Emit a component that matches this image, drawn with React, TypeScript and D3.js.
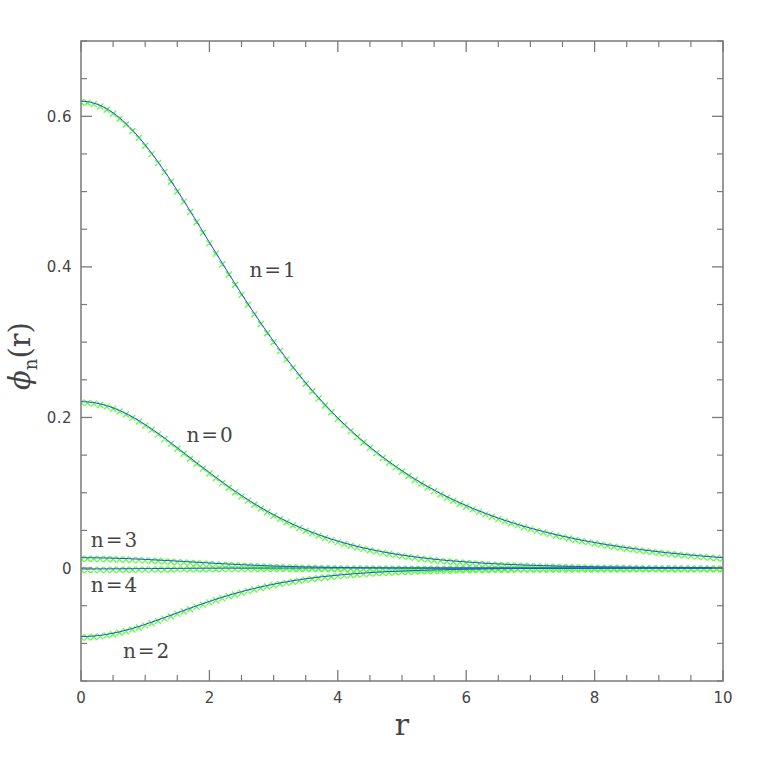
import React from 'react';
import * as d3 from 'd3';

// radial grid the curves were sampled on (0 .. 10, step 0.1)
const rGrid = d3.range(101).map(i => i / 10);

const phiN1 = [
  0.6200, 0.6194, 0.6175, 0.6144, 0.6101, 0.6046, 0.5981, 0.5905, 0.5819, 0.5724,
  0.5621, 0.5511, 0.5394, 0.5272, 0.5145, 0.5014, 0.4880, 0.4743, 0.4605, 0.4466,
  0.4326, 0.4187, 0.4049, 0.3911, 0.3776, 0.3642, 0.3510, 0.3382, 0.3255, 0.3132,
  0.3012, 0.2895, 0.2782, 0.2672, 0.2565, 0.2461, 0.2361, 0.2265, 0.2172, 0.2082,
  0.1995, 0.1912, 0.1832, 0.1754, 0.1680, 0.1609, 0.1540, 0.1474, 0.1411, 0.1351,
  0.1293, 0.1237, 0.1183, 0.1132, 0.1083, 0.1036, 0.0991, 0.0948, 0.0907, 0.0867,
  0.0830, 0.0793, 0.0759, 0.0726, 0.0694, 0.0663, 0.0634, 0.0607, 0.0580, 0.0555,
  0.0530, 0.0507, 0.0485, 0.0464, 0.0443, 0.0424, 0.0405, 0.0387, 0.0370, 0.0354,
  0.0339, 0.0324, 0.0309, 0.0296, 0.0283, 0.0270, 0.0259, 0.0247, 0.0236, 0.0226,
  0.0216, 0.0206, 0.0197, 0.0189, 0.0180, 0.0172, 0.0165, 0.0158, 0.0151, 0.0144,
  0.0138,
];

const phiN0 = [
  0.2210, 0.2207, 0.2197, 0.2180, 0.2157, 0.2128, 0.2093, 0.2053, 0.2008, 0.1959,
  0.1905, 0.1848, 0.1789, 0.1727, 0.1663, 0.1598, 0.1532, 0.1466, 0.1399, 0.1334,
  0.1269, 0.1205, 0.1142, 0.1081, 0.1021, 0.0964, 0.0909, 0.0855, 0.0804, 0.0755,
  0.0709, 0.0664, 0.0622, 0.0582, 0.0544, 0.0508, 0.0474, 0.0443, 0.0413, 0.0384,
  0.0358, 0.0333, 0.0310, 0.0288, 0.0268, 0.0249, 0.0232, 0.0215, 0.0200, 0.0185,
  0.0172, 0.0160, 0.0148, 0.0137, 0.0127, 0.0118, 0.0109, 0.0101, 0.0094, 0.0087,
  0.0081, 0.0075, 0.0069, 0.0064, 0.0059, 0.0055, 0.0051, 0.0047, 0.0044, 0.0040,
  0.0037, 0.0035, 0.0032, 0.0030, 0.0027, 0.0025, 0.0023, 0.0022, 0.0020, 0.0019,
  0.0017, 0.0016, 0.0015, 0.0014, 0.0013, 0.0012, 0.0011, 0.0010, 0.0009, 0.0009,
  0.0008, 0.0007, 0.0007, 0.0006, 0.0006, 0.0005, 0.0005, 0.0005, 0.0004, 0.0004,
  0.0004,
];

const phiN3 = [
  0.0137, 0.0137, 0.0136, 0.0135, 0.0133, 0.0131, 0.0128, 0.0126, 0.0122, 0.0119,
  0.0115, 0.0110, 0.0106, 0.0101, 0.0097, 0.0092, 0.0087, 0.0082, 0.0077, 0.0072,
  0.0067, 0.0062, 0.0058, 0.0053, 0.0049, 0.0045, 0.0041, 0.0037, 0.0034, 0.0030,
  0.0027, 0.0025, 0.0022, 0.0020, 0.0017, 0.0015, 0.0014, 0.0012, 0.0010, 0.0009,
  0.0008, 0.0007, 0.0006, 0.0005, 0.0004, 0.0004, 0.0003, 0.0003, 0.0002, 0.0002,
  0.0002, 0.0001, 0.0001, 0.0001, 0.0001, 0.0001, 0, 0, 0, 0,
  0, 0, 0, 0, 0, 0, 0, 0, 0, 0,
  0, 0, 0, 0, 0, 0, 0, 0, 0, 0,
  0, 0, 0, 0, 0, 0, 0, 0, 0, 0,
  0, 0, 0, 0, 0, 0, 0, 0, 0, 0,
  0,
];

const phiN4 = [
  -0.0012, -0.0012, -0.0012, -0.0011, -0.0011, -0.0010, -0.0010, -0.0009, -0.0009, -0.0008,
  -0.0007, -0.0007, -0.0006, -0.0005, -0.0005, -0.0004, -0.0004, -0.0003, -0.0003, -0.0002,
  -0.0002, -0.0002, -0.0001, -0.0001, -0.0001, -0.0001, -0.0001, 0, 0, 0,
  0, 0, 0, 0, 0, 0, 0, 0, 0, 0,
  0, 0, 0, 0, 0, 0, 0, 0, 0, 0,
  0, 0, 0, 0, 0, 0, 0, 0, 0, 0,
  0, 0, 0, 0, 0, 0, 0, 0, 0, 0,
  0, 0, 0, 0, 0, 0, 0, 0, 0, 0,
  0, 0, 0, 0, 0, 0, 0, 0, 0, 0,
  0, 0, 0, 0, 0, 0, 0, 0, 0, 0,
  0,
];

const phiN2 = [
  -0.0910, -0.0908, -0.0903, -0.0894, -0.0881, -0.0865, -0.0847, -0.0825, -0.0802, -0.0776,
  -0.0748, -0.0719, -0.0689, -0.0658, -0.0627, -0.0595, -0.0564, -0.0533, -0.0502, -0.0472,
  -0.0443, -0.0415, -0.0388, -0.0362, -0.0337, -0.0314, -0.0292, -0.0271, -0.0251, -0.0232,
  -0.0215, -0.0198, -0.0183, -0.0169, -0.0156, -0.0143, -0.0132, -0.0121, -0.0112, -0.0103,
  -0.0094, -0.0087, -0.0079, -0.0073, -0.0067, -0.0061, -0.0056, -0.0051, -0.0047, -0.0043,
  -0.0040, -0.0036, -0.0033, -0.0030, -0.0028, -0.0025, -0.0023, -0.0021, -0.0019, -0.0018,
  -0.0016, -0.0015, -0.0014, -0.0012, -0.0011, -0.0010, -0.0009, -0.0009, -0.0008, -0.0007,
  -0.0007, -0.0006, -0.0005, -0.0005, -0.0005, -0.0004, -0.0004, -0.0003, -0.0003, -0.0003,
  -0.0002, -0.0002, -0.0002, -0.0002, -0.0002, -0.0002, -0.0001, -0.0001, -0.0001, -0.0001,
  -0.0001, -0.0001, 0, 0, 0, 0, 0, 0, 0, 0,
  0,
];

const seriesList = [phiN4, phiN3, phiN2, phiN0, phiN1];

// curve annotations: text, r of label centre, phi of baseline
const labelTexts = ['n=1', 'n=0', 'n=3', 'n=4', 'n=2'];
const labelR = [3.0, 2.02, 0.53, 0.53, 1.03];
const labelPhi = [0.3866, 0.1678, 0.0285, -0.0312, -0.12];

const xMajor = [0, 2, 4, 6, 8, 10];
const xTickLabels = ['0', '2', '4', '6', '8', '10'];
const yMajor = [0, 0.2, 0.4, 0.6];
const yTickLabels = ['0', '0.2', '0.4', '0.6'];

const W = 763, H = 763;
const left = 81, right = 723, top = 41, bottom = 681;
const axisColor = '#7a7a7a';
const textColor = '#444';

export default function App() {
  const x = d3.scaleLinear().domain([0, 10]).range([left, right]);
  const y = d3.scaleLinear().domain([-0.15, 0.7]).range([bottom, top]);

  const xMinor = d3.range(0, 10.001, 0.5).filter(v => !xMajor.includes(v));
  const yMinor = d3.range(-3, 15).map(i => i * 0.05).filter(v => !yMajor.some(m => Math.abs(m - v) < 1e-6));

  const line = d3.line<number>()
    .x((_, i) => x(rGrid[i]))
    .y(d => y(d))
    .curve(d3.curveMonotoneX);

  // pgplot-like "x" markers, drawn slightly below the fitted line
  const crossPath = (vals: number[]) => {
    const s = 3;
    return vals.map((v, i) => {
      const px = x(rGrid[i]), py = y(v) + 1;
      return `M${px - s},${py - s}L${px + s},${py + s}M${px - s},${py + s}L${px + s},${py - s}`;
    }).join('');
  };

  const majLen = 11, minLen = 6;

  return (
    <svg width={W} height={H} style={{ position: 'absolute', left: 0, top: 0, background: '#fff' }}>
      <defs>
        <clipPath id="plotArea">
          <rect x={left} y={top} width={right - left} height={bottom - top} />
        </clipPath>
      </defs>

      <g clipPath="url(#plotArea)">
        {seriesList.map((vals, k) => (
          <path key={'m' + k} d={crossPath(vals)} stroke="#5cff3a" strokeWidth={1.3} fill="none" />
        ))}
        {seriesList.map((vals, k) => (
          <path key={'l' + k} d={line(vals) || ''} stroke="#2a48ea" strokeWidth={1} fill="none" />
        ))}
      </g>

      {/* frame */}
      <rect x={left} y={top} width={right - left} height={bottom - top} fill="none" stroke={axisColor} strokeWidth={1.5} />

      {/* x ticks, bottom and top, pointing inwards */}
      {xMajor.map(v => (
        <g key={'xM' + v} stroke={axisColor} strokeWidth={1.3}>
          <line x1={x(v)} x2={x(v)} y1={bottom} y2={bottom - majLen} />
          <line x1={x(v)} x2={x(v)} y1={top} y2={top + majLen} />
        </g>
      ))}
      {xMinor.map(v => (
        <g key={'xm' + v} stroke={axisColor} strokeWidth={1.2}>
          <line x1={x(v)} x2={x(v)} y1={bottom} y2={bottom - minLen} />
          <line x1={x(v)} x2={x(v)} y1={top} y2={top + minLen} />
        </g>
      ))}
      {yMajor.map(v => (
        <g key={'yM' + v} stroke={axisColor} strokeWidth={1.3}>
          <line x1={left} x2={left + majLen} y1={y(v)} y2={y(v)} />
          <line x1={right} x2={right - majLen} y1={y(v)} y2={y(v)} />
        </g>
      ))}
      {yMinor.map(v => (
        <g key={'ym' + v} stroke={axisColor} strokeWidth={1.2}>
          <line x1={left} x2={left + minLen} y1={y(v)} y2={y(v)} />
          <line x1={right} x2={right - minLen} y1={y(v)} y2={y(v)} />
        </g>
      ))}

      {/* tick labels */}
      <g fontFamily="DejaVu Sans" fontSize={15} fill={textColor}>
        {xMajor.map((v, i) => (
          <text key={'xl' + v} x={x(v)} y={bottom + 22} textAnchor="middle">{xTickLabels[i]}</text>
        ))}
        {yMajor.map((v, i) => (
          <text key={'yl' + v} x={left - 9} y={y(v) + 5.5} textAnchor="end" letterSpacing={0.5}>{yTickLabels[i]}</text>
        ))}
      </g>

      {/* curve labels */}
      <g fontFamily="DejaVu Serif" fontSize={20} fill={textColor} letterSpacing={2}>
        {labelTexts.map((t, i) => (
          <text key={t} x={x(labelR[i])} y={y(labelPhi[i])} textAnchor="middle">{t}</text>
        ))}
      </g>

      {/* axis titles */}
      <text x={x(5)} y={735} textAnchor="middle" fontFamily="DejaVu Serif" fontSize={30} fill={textColor}>r</text>
      <text transform="translate(30,356) rotate(-90)" textAnchor="middle" fontFamily="DejaVu Serif" fontSize={29} fill={textColor}>
        <tspan fontStyle="italic">ϕ</tspan>
        <tspan fontSize={18} dy={7}>n</tspan>
        <tspan dy={-7}>(r)</tspan>
      </text>
    </svg>
  );
}
